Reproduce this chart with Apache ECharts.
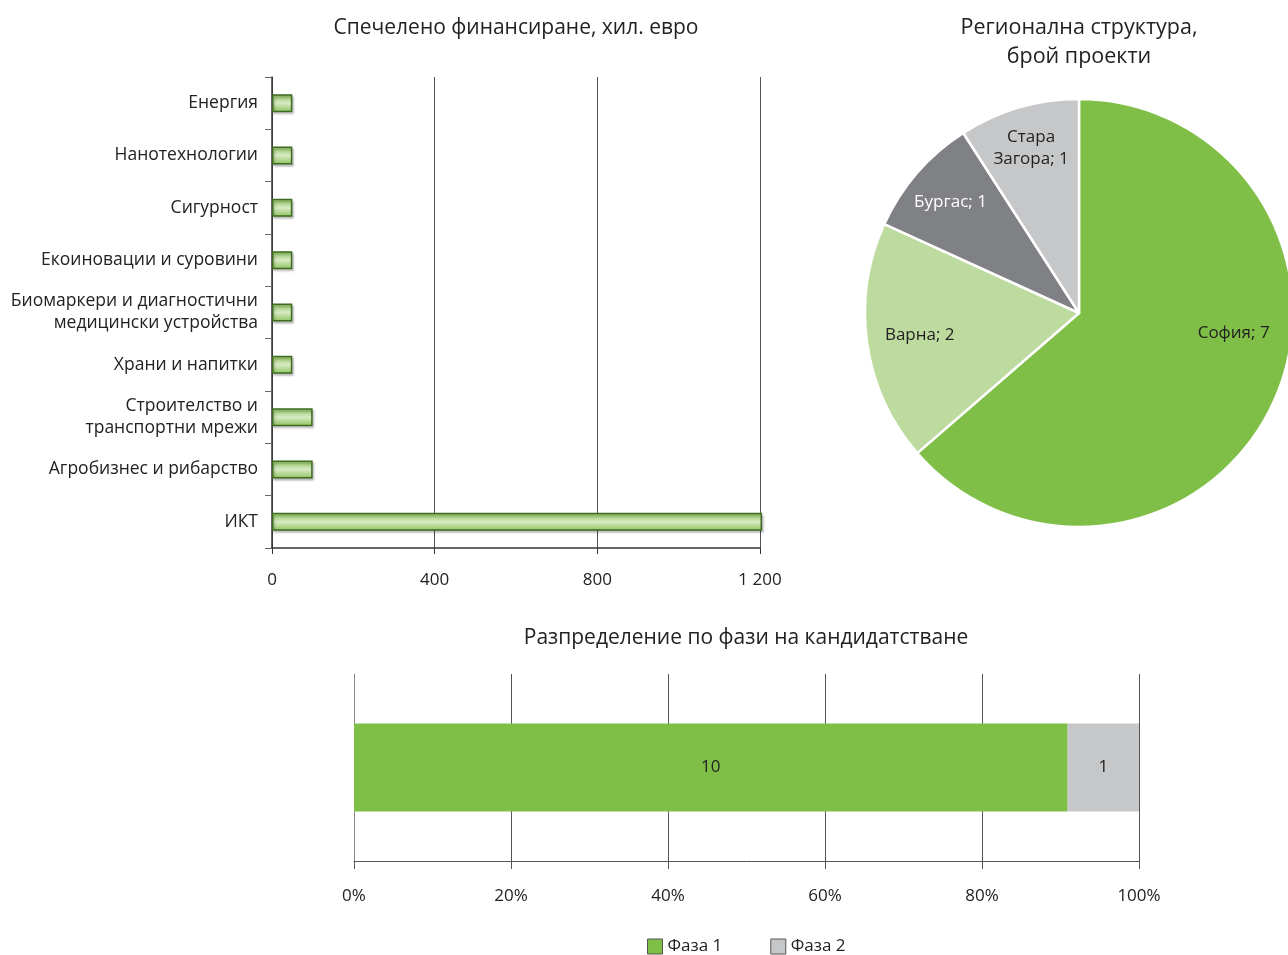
<!DOCTYPE html>
<html>
<head>
<meta charset="utf-8">
<script src="https://cdn.jsdelivr.net/npm/echarts@6/dist/echarts.min.js"></script>
<style>
  html, body { margin: 0; padding: 0; background: #fff; }
  #chart { width: 1288px; height: 955px; }
</style>
</head>
<body>
<div id="chart"></div>
<script>
// Funding by thematic area, thousand EUR (top to bottom)
const fundCategories = [
  'Енергия',
  'Нанотехнологии',
  'Сигурност',
  'Екоиновации и суровини',
  'Биомаркери и диагностични\nмедицински устройства',
  'Храни и напитки',
  'Строителство и\nтранспортни мрежи',
  'Агробизнес и рибарство',
  'ИКТ'
];
const fundValues = [50, 50, 50, 50, 50, 50, 100, 100, 1205];
const fundTicks = [0, 400, 800, 1200];

// Regional structure, number of projects
const regionNames = ['София', 'Варна', 'Бургас', 'Стара\nЗагора'];
const regionCounts = [7, 2, 1, 1];

// Distribution by application phase
const phaseNames = ['Фаза 1', 'Фаза 2'];
const phaseCounts = [10, 1];

const FONT = 'Open Sans';
const TXT = '#222';
const GREEN = '#7fbf47';
const LIGHT_GREEN = '#bedb9f';
const DARK_GREY = '#808184';
const LIGHT_GREY = '#c6c7c9';
const FS = 17;

const phaseTotal = phaseCounts.reduce((a, b) => a + b, 0);
const phaseColors = [GREEN, LIGHT_GREY];
const regionColors = [GREEN, LIGHT_GREEN, DARK_GREY, LIGHT_GREY];

const chart = echarts.init(document.getElementById('chart'));

const barGradient = new echarts.graphic.LinearGradient(0, 0, 0, 1, [
  { offset: 0, color: '#8cc35a' },
  { offset: 0.5, color: '#d8eac4' },
  { offset: 1, color: '#8cc35a' }
]);

const pieData = regionNames.map((n, i) => ({
  name: n,
  value: regionCounts[i],
  itemStyle: { color: regionColors[i] }
}));

// small nudges for the slice labels
const labelNudge = [{ dy: -50 }, { dx: 9, dy: -2 }, {}, { dy: -2 }];

chart.setOption({
  animation: false,
  textStyle: { fontFamily: FONT },
  title: [
    {
      text: 'Спечелено финансиране, хил. евро',
      left: 516, top: 18, textAlign: 'center', padding: 0,
      textStyle: { fontFamily: FONT, fontSize: 21, fontWeight: 'normal', color: TXT }
    },
    {
      text: 'Регионална структура,\nброй проекти',
      left: 1079, top: 13, textAlign: 'center', padding: 0,
      textStyle: { fontFamily: FONT, fontSize: 21.5, fontWeight: 'normal', color: TXT, lineHeight: 29 }
    },
    {
      text: 'Разпределение по фази на кандидатстване',
      left: 746, top: 628, textAlign: 'center', padding: 0,
      textStyle: { fontFamily: FONT, fontSize: 21, fontWeight: 'normal', color: TXT }
    }
  ],
  legend: {
    data: phaseNames,
    left: 647, top: 938, padding: 0,
    itemWidth: 15, itemHeight: 15, itemGap: 48,
    icon: 'rect',
    itemStyle: { borderColor: '#555', borderWidth: 1 },
    textStyle: { fontFamily: FONT, fontSize: FS, color: TXT }
  },
  grid: [
    { left: 272, top: 77, width: 488, height: 471 },
    { left: 354, top: 674, width: 785, height: 187 }
  ],
  xAxis: [
    {
      gridIndex: 0, type: 'value', min: 0, max: 1200, interval: 400,
      axisLine: { show: true, lineStyle: { color: '#333', width: 1.5 } },
      axisTick: { show: true, length: 6, lineStyle: { color: '#333' } },
      splitLine: { show: true, lineStyle: { color: '#555', width: 1 } },
      axisLabel: {
        margin: 24, fontSize: FS, color: TXT, fontFamily: FONT,
        formatter: v => fundTicks.includes(v) ? String(v).replace(/\B(?=(\d{3})+(?!\d))/g, ' ') : ''
      }
    },
    {
      gridIndex: 1, type: 'value', min: 0, max: 100, interval: 20,
      axisLine: { show: true, lineStyle: { color: '#555', width: 1 } },
      axisTick: { show: true, length: 8, lineStyle: { color: '#555' } },
      splitLine: { show: true, lineStyle: { color: '#555', width: 1 } },
      axisLabel: { margin: 27, fontSize: FS, color: TXT, fontFamily: FONT, formatter: '{value}%' }
    }
  ],
  yAxis: [
    {
      gridIndex: 0, type: 'category', data: fundCategories, inverse: true,
      axisLine: { show: true, lineStyle: { color: '#333', width: 1.5 } },
      axisTick: { show: true, length: 7, lineStyle: { color: '#666' } },
      axisLabel: { margin: 14, fontSize: 17.5, color: TXT, fontFamily: FONT, lineHeight: 22, align: 'right' }
    },
    {
      gridIndex: 1, type: 'category', data: [''],
      axisLine: { show: true, lineStyle: { color: '#888' } },
      axisTick: { show: false },
      axisLabel: { show: false }
    }
  ],
  series: [
    {
      type: 'bar', xAxisIndex: 0, yAxisIndex: 0,
      data: fundValues, barWidth: 18, clip: false,
      itemStyle: {
        color: barGradient,
        borderColor: '#3c6a20', borderWidth: 1.5,
        shadowColor: 'rgba(0,0,0,0.22)', shadowBlur: 2, shadowOffsetX: 1.5, shadowOffsetY: 2
      }
    },
    ...phaseNames.map((n, i) => ({
      name: n, type: 'bar', stack: 'phase', xAxisIndex: 1, yAxisIndex: 1,
      barWidth: 88,
      data: [phaseCounts[i] / phaseTotal * 100],
      itemStyle: { color: phaseColors[i] },
      label: {
        show: true, position: 'inside', fontSize: FS, color: TXT, fontFamily: FONT,
        formatter: () => String(phaseCounts[i])
      }
    })),
    {
      // visible pie
      type: 'pie', center: [1079, 313], radius: 214,
      startAngle: 90, clockwise: true,
      data: pieData,
      itemStyle: { borderColor: '#fff', borderWidth: 2.5 },
      label: { show: false }, labelLine: { show: false },
      silent: true
    },
    {
      // transparent ring carrying the slice labels further out from the centre
      type: 'pie', center: [1079, 313], radius: [120, 214],
      startAngle: 90, clockwise: true,
      data: regionNames.map((n, i) => ({
        name: n, value: regionCounts[i],
        label: { color: i === 2 ? '#fff' : TXT }
      })),
      itemStyle: { color: 'rgba(0,0,0,0)' },
      silent: true,
      label: {
        show: true, position: 'inside', fontSize: FS, fontFamily: FONT, lineHeight: 22,
        formatter: p => p.name + '; ' + p.value
      },
      labelLine: { show: false },
      labelLayout: p => labelNudge[p.dataIndex]
    }
  ]
});
</script>
</body>
</html>
